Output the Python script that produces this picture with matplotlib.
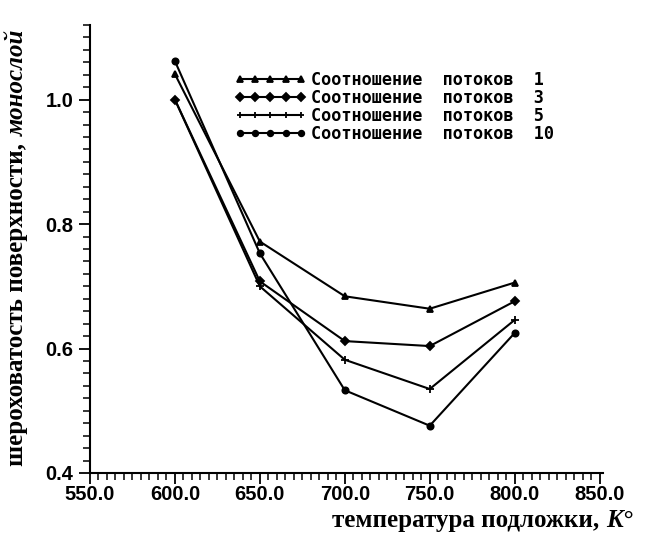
"""
Surface roughness vs substrate temperature for several flux ratios
"""
import numpy as np
import matplotlib
matplotlib.use('Agg')
import matplotlib.pyplot as plt
from matplotlib.ticker import MultipleLocator, FormatStrFormatter

# ======================================================================================================================
# Data
TEMPERATURE = [600.0, 650.0, 700.0, 750.0, 800.0]
RATIO_1 = [1.041, 0.772, 0.684, 0.664, 0.706]
RATIO_3 = [1.000, 0.708, 0.612, 0.604, 0.676]
RATIO_5 = [1.000, 0.700, 0.582, 0.535, 0.646]
RATIO_10 = [1.062, 0.753, 0.533, 0.476, 0.625]
LABELS = ['Соотношение  потоков  1', 'Соотношение  потоков  3',
          'Соотношение  потоков  5', 'Соотношение  потоков  10']
MARKERS = ['^', 'D', '+', 'o']
Y_TICKS = [0.4, 0.6, 0.8, 1.0]
X_LABEL = 'температура подложки, '
X_UNIT = 'K°'
Y_LABEL = 'шероховатость поверхности, '
Y_UNIT = 'монослой'

W, H = 645, 540

# ======================================================================================================================
fig = plt.figure(figsize=(W / 100, H / 100), dpi=100)
ax = fig.add_axes([90 / W, 1 - 473 / H, (603 - 90) / W, (473 - 25) / H])

for values, label, marker in zip([RATIO_1, RATIO_3, RATIO_5, RATIO_10], LABELS, MARKERS):
    ax.plot(TEMPERATURE, values, color='black', lw=1.5, marker=marker,
            ms=4.5 if marker != '+' else 6, mew=1.3, label=label)

ax.set_xlim(550, 852)
ax.set_ylim(0.4, 1.12)
ax.xaxis.set_major_locator(MultipleLocator(50))
ax.xaxis.set_minor_locator(MultipleLocator(5))
ax.xaxis.set_major_formatter(FormatStrFormatter('%.1f'))
ax.set_yticks(Y_TICKS)
ax.yaxis.set_minor_locator(MultipleLocator(0.02))
ax.yaxis.set_major_formatter(FormatStrFormatter('%.1f'))

for side in ['top', 'right']:
    ax.spines[side].set_visible(False)
for side in ['left', 'bottom']:
    ax.spines[side].set_linewidth(1.5)

ax.tick_params(axis='both', which='major', direction='out', length=8, width=1.3,
               labelsize=14.5)
ax.tick_params(axis='both', which='minor', direction='out', length=5, width=1.1)
ax.tick_params(axis='x', pad=1)
ax.tick_params(axis='y', pad=4)
for lbl in ax.get_xticklabels() + ax.get_yticklabels():
    lbl.set_fontfamily('Liberation Sans')
    lbl.set_fontweight('bold')

leg = ax.legend(loc='upper left', bbox_to_anchor=(228 / W, 1 - 64 / H), bbox_transform=fig.transFigure,
                frameon=False, numpoints=5, handlelength=4.2, handletextpad=0.3, labelspacing=0.0,
                borderaxespad=0, prop={'family': 'DejaVu Sans Mono', 'weight': 'bold', 'size': 12.2})
for line in leg.get_lines():
    line.set_markersize(4)

# axis titles: plain bold part followed by bold italic units
fig.canvas.draw()
renderer = fig.canvas.get_renderer()

xt = fig.text(332 / W, 1 - 527 / H, X_LABEL, fontsize=18, fontweight='bold',
              family='Liberation Serif', ha='left', va='baseline')
bb = xt.get_window_extent(renderer)
fig.text((bb.x1 + 1) / W, 1 - 527 / H, X_UNIT, fontsize=18, fontweight='bold', fontstyle='italic',
         family='Liberation Serif', ha='left', va='baseline')

yt = fig.text(17 / W, 1 - 466 / H, Y_LABEL, fontsize=18, fontweight='bold', rotation=90,
              family='Liberation Serif', ha='left', va='center', rotation_mode='anchor')
bb = yt.get_window_extent(renderer)
fig.text(17 / W, (bb.y1 + 1) / H, Y_UNIT, fontsize=18, fontweight='bold', fontstyle='italic',
         rotation=90, family='Liberation Serif', ha='left', va='center', rotation_mode='anchor')

fig.savefig('out.png', dpi=100)
